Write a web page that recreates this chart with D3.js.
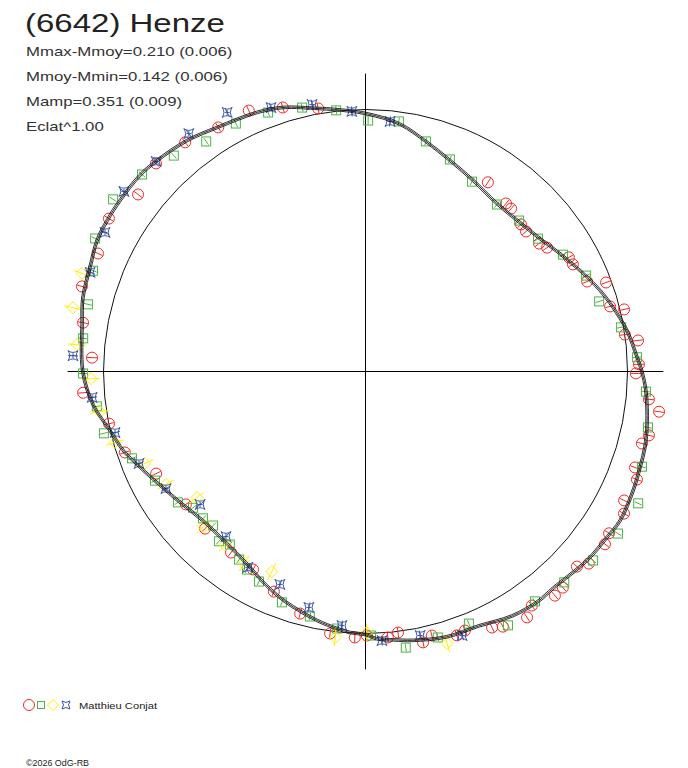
<!DOCTYPE html>
<html><head><meta charset="utf-8">
<script src="https://cdn.jsdelivr.net/npm/d3@7"></script>
<style>html,body{margin:0;padding:0;background:#fff;} svg{display:block;}</style>
</head><body><svg id="c" width="688" height="768"></svg>
<script>
// ---------- data (phase in degrees, clockwise from top; radius relative to reference circle) ----------
const curvePhase = [0, 7.8, 14.7, 21.8, 29.4, 38.0, 46.0, 52.7, 58.8, 65.7, 70.9, 75.5, 81.1, 87.0, 90.0, 94.0, 100.5, 105.2, 109.3, 114.0, 120.3, 124.5, 130.5, 139.0, 143.0, 149.0, 156.0, 163.0, 170.0, 174.0, 177.6, 180.0, 183.4, 186.3, 191.0, 199.0, 205.0, 212.0, 219.0, 227.5, 235.0, 243.0, 249.0, 252.0, 257.0, 263.0, 270.0, 279.6, 284.7, 290.7, 296.0, 300.3, 304.9, 311.0, 315.3, 322.3, 328.7, 337.3, 342.6, 349.8, 353.3];
const curveRadius = [0.985, 0.954, 0.908, 0.868, 0.837, 0.814, 0.819, 0.837, 0.868, 0.911, 0.947, 0.976, 1.010, 1.038, 1.055, 1.073, 1.093, 1.105, 1.110, 1.118, 1.126, 1.118, 1.111, 1.094, 1.097, 1.088, 1.063, 1.059, 1.042, 1.030, 1.021, 1.004, 0.998, 0.987, 0.968, 0.931, 0.899, 0.861, 0.843, 0.842, 0.867, 0.908, 0.950, 0.973, 1.001, 1.047, 1.079, 1.097, 1.115, 1.124, 1.140, 1.142, 1.142, 1.141, 1.132, 1.114, 1.090, 1.072, 1.056, 1.020, 1.007];

const redObs = [[335.9,1.091],[328.9,1.088],[321.8,1.113],[314.8,1.127],[307.9,1.100],[300.8,1.140],[293.8,1.116],[286.7,1.130],[279.8,1.094],[342.6,1.056],[349.8,1.020],[32.9,0.860],[39.9,0.836],[41.8,0.834],[46.6,0.817],[48.9,0.813],[53.6,0.823],[55.7,0.839],[60.7,0.890],[62.7,0.891],[67.9,0.913],[69.7,0.979],[75.1,0.966],[76.5,1.015],[81.9,1.000],[83.5,1.047],[88.5,1.044],[90.4,1.032],[95.6,1.087],[97.8,1.131],[102.7,1.109],[104.6,1.090],[109.6,1.092],[111.7,1.115],[116.5,1.103],[118.8,1.126],[123.6,1.116],[125.8,1.127],[130.7,1.124],[132.7,1.098],[137.6,1.117],[139.8,1.120],[144.6,1.096],[146.7,1.123],[151.7,1.106],[153.7,1.090],[159.0,1.059],[160.9,1.066],[165.9,1.039],[168.0,1.057],[172.9,1.004],[175.2,1.019],[179.7,1.008],[182.3,1.016],[187.7,1.009],[195.1,0.957],[202.6,0.910],[209.6,0.869],[216.6,0.861],[225.6,0.857],[233.5,0.853],[244.0,0.889],[251.4,0.969],[258.5,0.999],[265.7,1.081],[272.9,1.045]];
const greenObs = [[332.4,1.068],[325.3,1.068],[318.4,1.102],[311.4,1.137],[304.3,1.166],[296.2,1.150],[290.3,1.109],[283.6,1.090],[276.7,1.085],[269.6,1.078],[262.6,1.034],[256.7,1.026],[249.6,0.951],[242.6,0.905],[235.1,0.873],[231.7,0.839],[227.9,0.836],[224.7,0.827],[220.8,0.856],[218.1,0.839],[213.9,0.865],[210.9,0.881],[206.9,0.899],[199.9,0.937],[192.8,0.959],[186.3,0.987],[178.8,1.008],[171.7,1.065],[164.8,1.052],[157.7,1.040],[150.7,1.111],[143.6,1.090],[136.7,1.106],[129.7,1.129],[122.7,1.145],[115.8,1.156],[109.0,1.116],[101.2,1.099],[94.1,1.073],[87.0,1.038],[80.2,0.990],[73.3,0.931],[66.5,0.918],[59.4,0.876],[52.4,0.831],[45.5,0.822],[38.2,0.811],[29.3,0.831],[21.7,0.871],[14.7,0.908],[7.6,0.963],[0.6,0.958],[353.6,1.003],[346.5,1.036],[339.4,1.056]];
const yellowObs = [[289.1,1.145],[282.3,1.143],[275.3,1.106],[268.5,1.048],[261.4,1.025],[254.2,0.994],[247.4,0.912],[240.5,0.875],[233.2,0.803],[226.2,0.855],[219.1,0.851],[212.3,0.867],[205.1,0.843],[186.5,1.022],[179.7,0.996],[163.3,1.084]];
const blueObs = [[331.9,1.121],[323.4,1.131],[315.1,1.132],[306.7,1.150],[298.1,1.127],[289.8,1.117],[273.1,1.118],[264.6,1.048],[256.3,0.984],[247.9,0.933],[239.6,0.883],[231.2,0.810],[220.2,0.825],[211.0,0.872],[201.9,0.876],[193.5,0.926],[185.3,0.974],[176.5,1.029],[168.3,1.029],[159.9,1.073],[340.3,1.070],[348.7,1.039],[357.0,0.994],[5.6,0.959]];

const titleText = "(6642) Henze";
const statLines = ["Mmax-Mmoy=0.210 (0.006)", "Mmoy-Mmin=0.142 (0.006)", "Mamp=0.351 (0.009)", "Eclat^1.00"];
const observer = "Matthieu Conjat";
const credit = "\u00A92026 OdG-RB";
const axisExtent = 1.137;

// ---------- drawing ----------
const svg = d3.select("#c");
const R = 262;
const rs = d3.scaleLinear().domain([0, 1]).range([0, R]);
const as = d3.scaleLinear().domain([0, 360]).range([0, 2 * Math.PI]);
const col = {red: "#f02828", green: "#4cb444", yellow: "#ffee00", blue: "#3a55a8"};
const g = svg.append("g").attr("transform", "translate(365.5,371.5)");

g.append("line").attr("x1", -rs(axisExtent)).attr("x2", rs(axisExtent)).attr("y1", 0).attr("y2", 0)
  .attr("stroke", "#000").attr("stroke-width", 1);
g.append("line").attr("y1", -rs(axisExtent)).attr("y2", rs(axisExtent)).attr("x1", 0).attr("x2", 0)
  .attr("stroke", "#000").attr("stroke-width", 1);
g.append("circle").attr("r", rs(1)).attr("fill", "none").attr("stroke", "#111").attr("stroke-width", 1);

const shapes = {
  circle: sel => sel.append("circle").attr("r", 5.5),
  square: sel => sel.append("rect").attr("x", -4.5).attr("y", -4.5).attr("width", 9).attr("height", 9),
  diamond: sel => sel.append("path").attr("d", "M0,-6L6,0L0,6L-6,0Z"),
  star: sel => sel.append("path").attr("d", "M-5,-5Q0,-1.5 5,-5Q1.5,0 5,5Q0,1.5 -5,5Q-1.5,0 -5,-5Z M-2.5,0H2.5M0,-2.5V2.5")
};

function drawSeries(data, color, shape, bar) {
  const s = g.append("g").attr("stroke", color).attr("fill", "none").attr("stroke-width", 1);
  data.forEach(d => {
    const a = as(d[0]), r = rs(d[1]);
    const p = d3.pointRadial(a, r);
    const p1 = d3.pointRadial(a, r - bar), p2 = d3.pointRadial(a, r + bar);
    s.append("line").attr("x1", p1[0]).attr("y1", p1[1]).attr("x2", p2[0]).attr("y2", p2[1]);
    const m = s.append("g").attr("transform", `translate(${p[0]},${p[1]})`);
    shapes[shape](m);
  });
}
drawSeries(redObs, col.red, "circle", 5);
drawSeries(greenObs, col.green, "square", 4);
drawSeries(yellowObs, col.yellow, "diamond", 9);
drawSeries(blueObs, col.blue, "star", 5);

const curveData = curvePhase.map((p, i) => [p, curveRadius[i]]);
[-0.005, 0, 0.005].forEach(off => {
  const line = d3.lineRadial().angle(d => as(d[0])).radius(d => rs(d[1] + off)).curve(d3.curveCatmullRomClosed);
  g.append("path").attr("d", line(curveData)).attr("fill", "none").attr("stroke", "#1a1a1a").attr("stroke-width", 0.9);
});

// ---------- texts ----------
const font = "'Liberation Sans', Arial, sans-serif";
svg.append("text").attr("transform", "translate(25,32) scale(1.32,1)")
  .attr("font-family", font).attr("font-size", 25).attr("fill", "#222").text(titleText);
statLines.forEach((t, i) => {
  svg.append("text").attr("transform", `translate(26,${55.5 + i * 25}) scale(1.29,1)`)
    .attr("font-family", font).attr("font-size", 13).attr("fill", "#333").text(t);
});

const lg = svg.append("g").attr("fill", "none").attr("stroke-width", 1);
shapes.circle(lg.append("g").attr("transform", "translate(29,705)").attr("stroke", col.red));
lg.append("g").attr("transform", "translate(41,705)").attr("stroke", col.green)
  .append("rect").attr("x", -3.5).attr("y", -3.5).attr("width", 7).attr("height", 7);
lg.append("g").attr("transform", "translate(53,705)").attr("stroke", col.yellow)
  .append("path").attr("d", "M0,-5.5L5.5,0L0,5.5L-5.5,0Z");
lg.append("g").attr("transform", "translate(66,705)").attr("stroke", col.blue)
  .append("path").attr("d", "M-4,-4Q0,-1 4,-4Q1,0 4,4Q0,1 -4,4Q-1,0 -4,-4Z");
svg.append("text").attr("transform", "translate(79,708.5) scale(1.2,1)")
  .attr("font-family", font).attr("font-size", 9.3).attr("fill", "#222").text(observer);
svg.append("text").attr("transform", "translate(26,766) scale(1.05,1)")
  .attr("font-family", font).attr("font-size", 8.5).attr("fill", "#222").text(credit);
</script>
</body></html>
